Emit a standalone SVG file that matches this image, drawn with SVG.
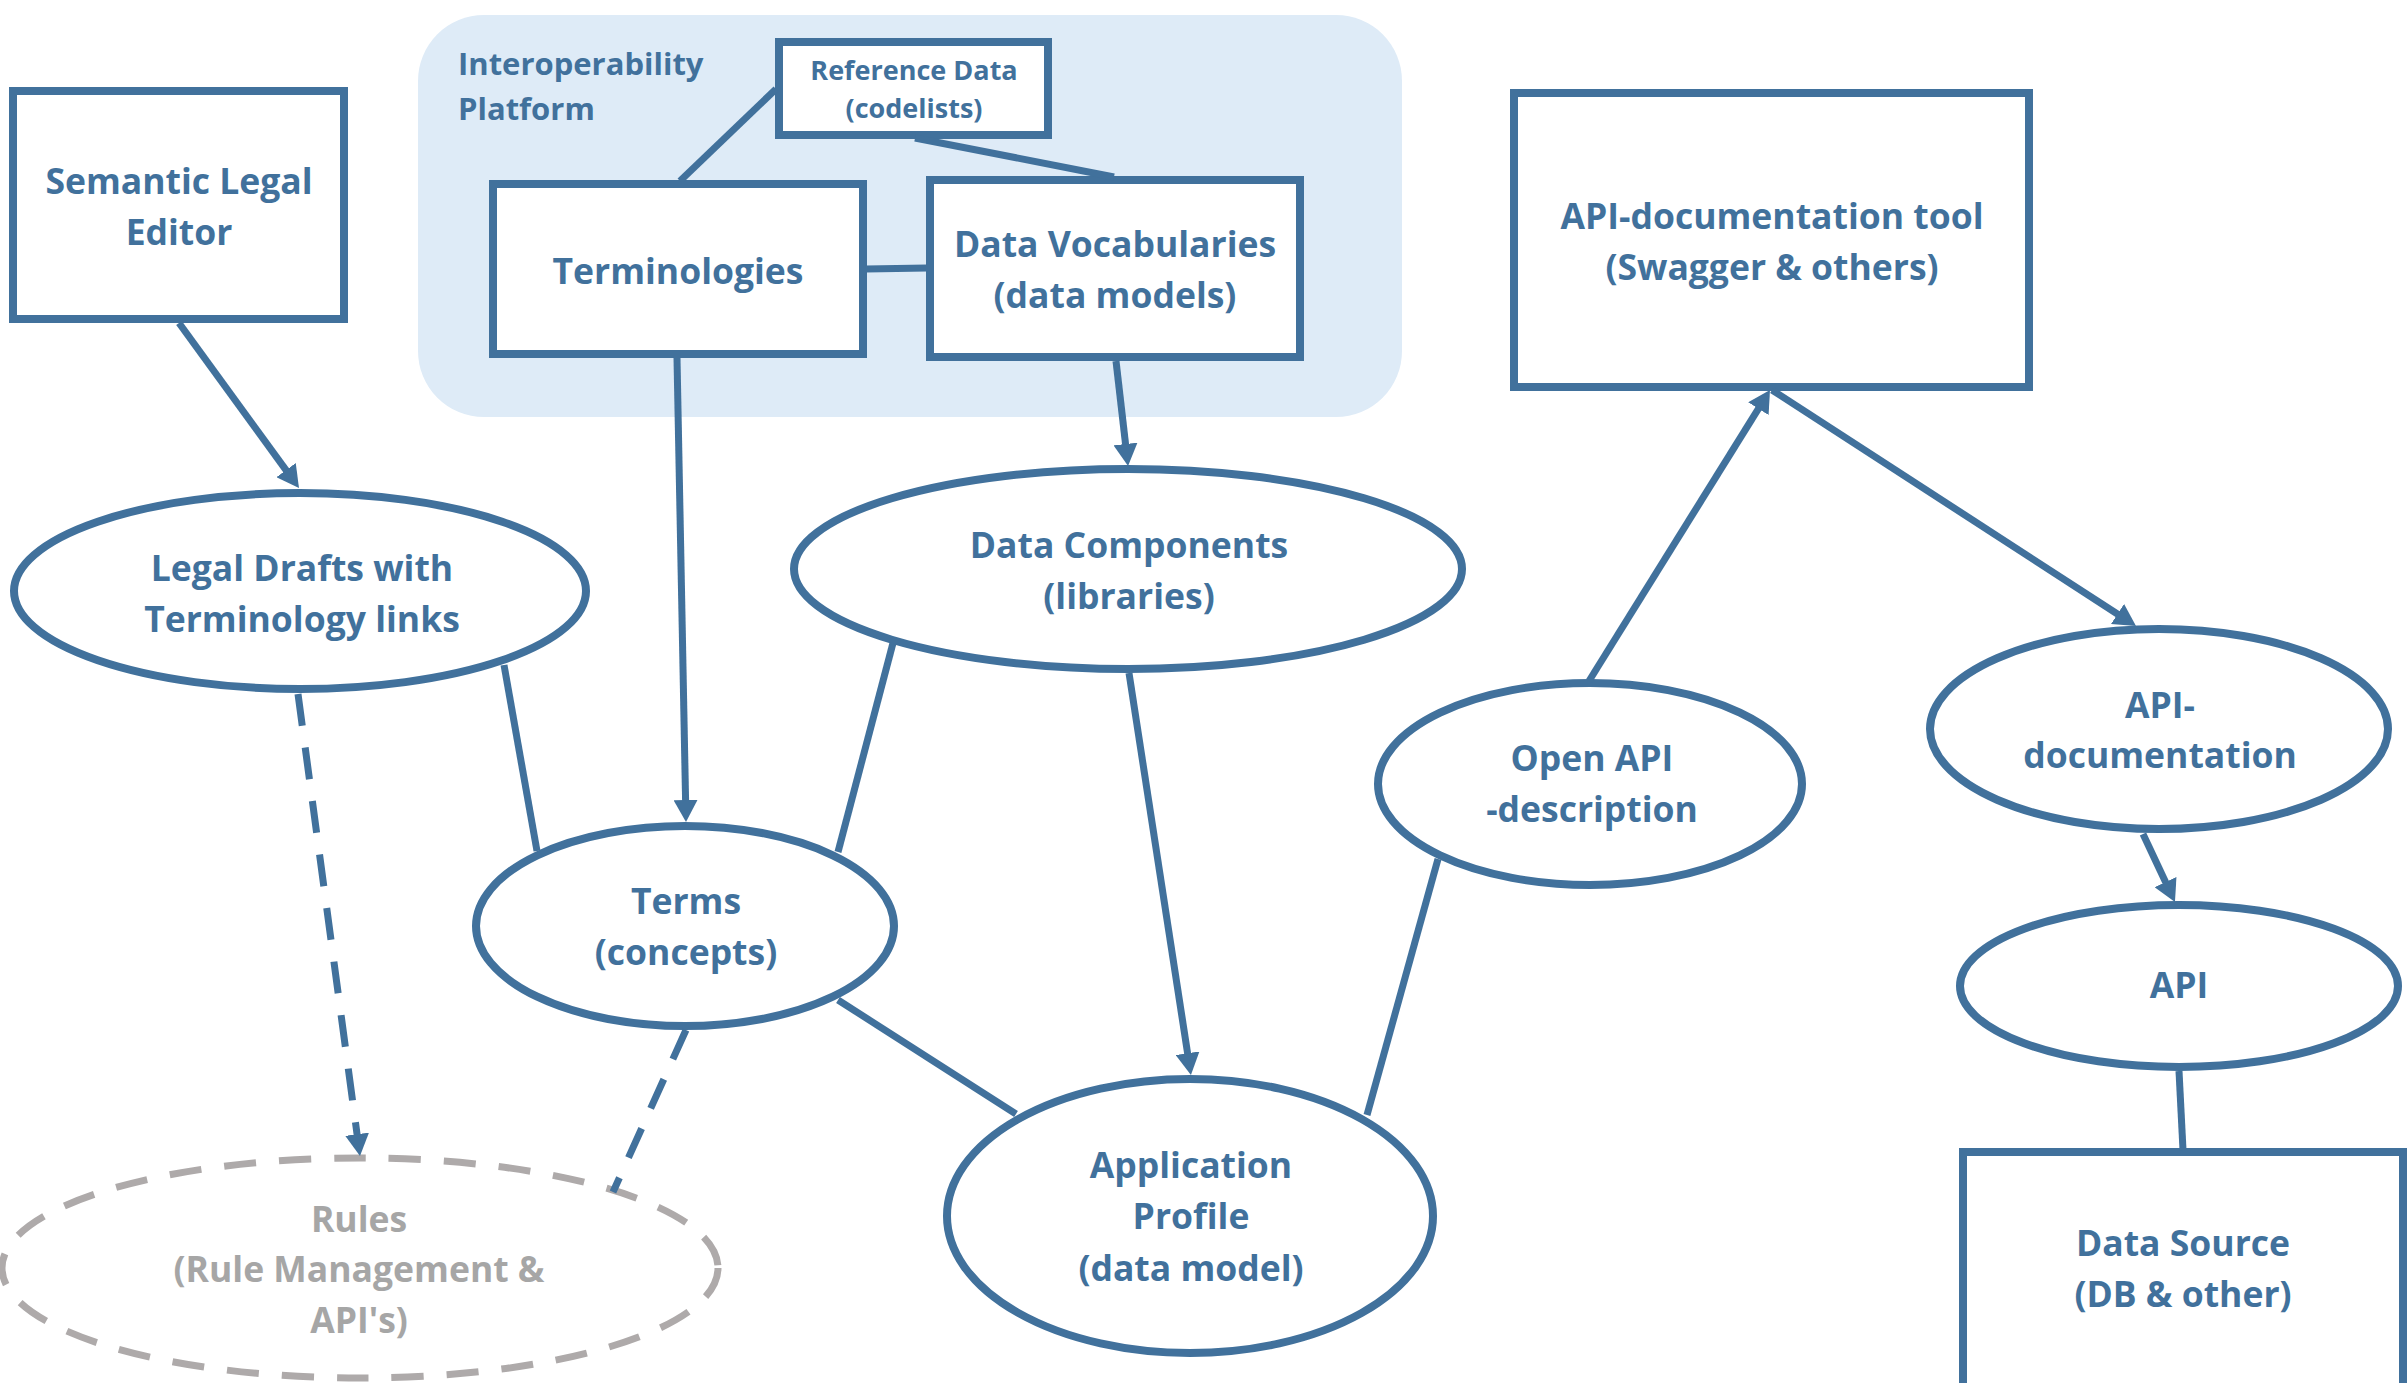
<svg xmlns="http://www.w3.org/2000/svg" width="2407" height="1383" viewBox="0 0 2407 1383">
<defs>
<style>
.box{fill:#ffffff;stroke:#41719C;stroke-width:8}
.ell{fill:#ffffff;stroke:#41719C;stroke-width:8}
.rules{fill:#ffffff;stroke:#AEAAAA;stroke-width:7;stroke-dasharray:32 23}
.t{font-family:"Open Sans","Liberation Sans",sans-serif;font-weight:700;font-size:35.5px;fill:#41719C;text-anchor:middle}
.ts{font-size:27px}
.tg{fill:#A6A6A6}
.lab{font-family:"Open Sans","Liberation Sans",sans-serif;font-weight:700;font-size:31px;fill:#41719C}
.c{stroke:#41719C;stroke-width:7;fill:none}
.d{stroke-dasharray:32 22}
</style>
<marker id="ah" markerUnits="userSpaceOnUse" markerWidth="24" markerHeight="24" viewBox="0 0 24 24" refX="4" refY="12" orient="auto">
<path d="M0,0 L22,12 L0,24 z" fill="#41719C"/>
</marker>
</defs>
<rect x="0" y="0" width="2407" height="1383" fill="#ffffff"/>
<g id="platform">
<rect x="418" y="15" width="984" height="402" rx="66" ry="66" fill="#DEEBF7"/>
<text class="lab" x="458" y="75">Interoperability</text>
<text class="lab" x="458" y="120">Platform</text>
</g>
<g id="semantic-legal-editor">
<rect class="box" x="13" y="91" width="331" height="228"/>
<text class="t" x="179" y="194">Semantic Legal</text>
<text class="t" x="179" y="245">Editor</text>
</g>
<g id="reference-data">
<rect class="box" x="779" y="42" width="269" height="93"/>
<text class="t ts" x="914" y="80">Reference Data</text>
<text class="t ts" x="914" y="118">(codelists)</text>
</g>
<g id="terminologies">
<rect class="box" x="493" y="184" width="370" height="170"/>
<text class="t" x="678" y="284">Terminologies</text>
</g>
<g id="data-vocabularies">
<rect class="box" x="930" y="180" width="370" height="177"/>
<text class="t" x="1115" y="257">Data Vocabularies</text>
<text class="t" x="1115" y="308">(data models)</text>
</g>
<g id="api-doc-tool">
<rect class="box" x="1514" y="93" width="515" height="294"/>
<text class="t" x="1772" y="229">API-documentation tool</text>
<text class="t" x="1772" y="280">(Swagger &amp; others)</text>
</g>
<g id="legal-drafts">
<ellipse class="ell" cx="300" cy="591" rx="286" ry="98"/>
<text class="t" x="302" y="581">Legal Drafts with</text>
<text class="t" x="302" y="632">Terminology links</text>
</g>
<g id="data-components">
<ellipse class="ell" cx="1128" cy="569" rx="334" ry="100"/>
<text class="t" x="1129" y="558">Data Components</text>
<text class="t" x="1129" y="609">(libraries)</text>
</g>
<g id="terms">
<ellipse class="ell" cx="685" cy="926" rx="209" ry="100"/>
<text class="t" x="686" y="914">Terms</text>
<text class="t" x="686" y="965">(concepts)</text>
</g>
<g id="open-api">
<ellipse class="ell" cx="1590" cy="784" rx="212" ry="101"/>
<text class="t" x="1592" y="771">Open API</text>
<text class="t" x="1592" y="822">-description</text>
</g>
<g id="api-documentation">
<ellipse class="ell" cx="2159" cy="729" rx="229" ry="100"/>
<text class="t" x="2160" y="718">API-</text>
<text class="t" x="2160" y="768">documentation</text>
</g>
<g id="api">
<ellipse class="ell" cx="2179" cy="986" rx="219" ry="81"/>
<text class="t" x="2179" y="998">API</text>
</g>
<g id="application-profile">
<ellipse class="ell" cx="1190" cy="1216" rx="243" ry="137"/>
<text class="t" x="1191" y="1178">Application</text>
<text class="t" x="1191" y="1229">Profile</text>
<text class="t" x="1191" y="1281">(data model)</text>
</g>
<g id="data-source">
<rect class="box" x="1963" y="1152" width="440" height="240"/>
<text class="t" x="2183" y="1256">Data Source</text>
<text class="t" x="2183" y="1307">(DB &amp; other)</text>
</g>
<g id="rules">
<ellipse class="rules" cx="360" cy="1268" rx="358" ry="110"/>
<text class="t tg" x="359" y="1232">Rules</text>
<text class="t tg" x="359" y="1282">(Rule Management &amp;</text>
<text class="t tg" x="359" y="1333">API's)</text>
</g>
<g id="connectors">
<line class="c" x1="179" y1="323" x2="288.4" y2="473.4" marker-end="url(#ah)"/>
<line class="c" x1="776" y1="89" x2="680" y2="181"/>
<line class="c" x1="915" y1="138" x2="1114" y2="177" stroke-width="8"/>
<line class="c" x1="866" y1="269" x2="927" y2="268" stroke-width="8"/>
<line class="c" x1="677" y1="358" x2="685.65" y2="804" marker-end="url(#ah)"/>
<line class="c" x1="1116" y1="361" x2="1126" y2="448" marker-end="url(#ah)"/>
<line class="c" x1="504" y1="665" x2="537" y2="851"/>
<line class="c" x1="893" y1="643" x2="838" y2="852"/>
<line class="c" x1="838" y1="1000" x2="1016" y2="1114"/>
<line class="c" x1="1129" y1="673" x2="1188.2" y2="1057.2" marker-end="url(#ah)"/>
<line class="c" x1="1438" y1="859" x2="1367" y2="1115"/>
<line class="c" x1="1589" y1="681" x2="1760.5" y2="405.3" marker-end="url(#ah)"/>
<line class="c" x1="1772" y1="390" x2="2120.9" y2="616.2" marker-end="url(#ah)"/>
<line class="c" x1="2143" y1="834" x2="2167.3" y2="885.7" marker-end="url(#ah)"/>
<line class="c" x1="2179" y1="1071" x2="2183" y2="1150"/>
<line class="c d" x1="298" y1="694" x2="357.6" y2="1138.2" marker-end="url(#ah)"/>
<line class="c d" x1="686" y1="1030" x2="613" y2="1192"/>
</g>
</svg>
